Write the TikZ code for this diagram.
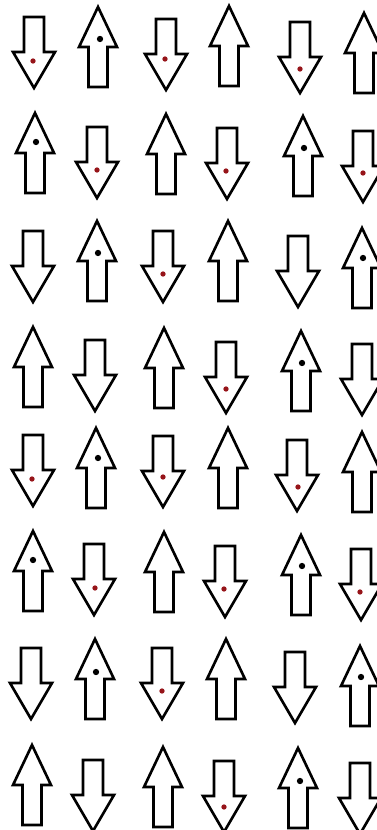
\documentclass[tikz,border=0pt]{standalone}
\usepackage{tikz}
\definecolor{dotred}{RGB}{150,20,25}

\begin{document}
\begin{tikzpicture}[
    x=0.02cm, y=-0.02cm,
    arrowline/.style={draw=black, line width=1.5pt, line join=miter, fill=white},
    uparr/.pic={
        \draw[arrowline] (0,0) -- (19,40) -- (9.5,40) -- (9.5,80) -- (-9.5,80) -- (-9.5,40) -- (-19,40) -- cycle;
    },
    downarr/.pic={
        \draw[arrowline] (0,0) -- (21,-36) -- (10,-36) -- (10,-71) -- (-10,-71) -- (-10,-36) -- (-21,-36) -- cycle;
    },
    updot/.style={fill=black},
    downdot/.style={fill=dotred}
]
\useasboundingbox (0,0) rectangle (377,830);

% row 1
\pic (r1c1) at (34,88) {downarr};
\pic (r1c2) at (98,7) {uparr};
\pic (r1c3) at (166,90) {downarr};
\pic (r1c4) at (229,6) {uparr};
\pic (r1c5) at (300,93) {downarr};
\pic (r1c6) at (364,13) {uparr};
\fill[downdot] (33,61) circle[radius=1.5pt];
\fill[updot] (100,39) circle[radius=1.8pt];
\fill[downdot] (165,59) circle[radius=1.5pt];
\fill[downdot] (300,69) circle[radius=1.5pt];

% row 2
\pic (r2c1) at (35,113) {uparr};
\pic (r2c2) at (97,198) {downarr};
\pic (r2c3) at (166,114) {uparr};
\pic (r2c4) at (227,199) {downarr};
\pic (r2c5) at (303,116) {uparr};
\pic (r2c6) at (363,202) {downarr};
\fill[updot] (36,142) circle[radius=1.8pt];
\fill[downdot] (97,170) circle[radius=1.5pt];
\fill[downdot] (226,171) circle[radius=1.5pt];
\fill[updot] (304,148) circle[radius=1.8pt];
\fill[downdot] (363,173) circle[radius=1.5pt];

% row 3
\pic (r3c1) at (33,302) {downarr};
\pic (r3c2) at (97,221) {uparr};
\pic (r3c3) at (163,302) {downarr};
\pic (r3c4) at (228,221) {uparr};
\pic (r3c5) at (298,307) {downarr};
\pic (r3c6) at (362,228) {uparr};
\fill[updot] (98,253) circle[radius=1.8pt];
\fill[downdot] (163,274) circle[radius=1.5pt];
\fill[updot] (363,258) circle[radius=1.8pt];

% row 4
\pic (r4c1) at (33,327) {uparr};
\pic (r4c2) at (95,411) {downarr};
\pic (r4c3) at (164,328) {uparr};
\pic (r4c4) at (226,413) {downarr};
\pic (r4c5) at (301,331) {uparr};
\pic (r4c6) at (362,415) {downarr};
\fill[downdot] (226,389) circle[radius=1.5pt];
\fill[updot] (302,363) circle[radius=1.8pt];

% row 5
\pic (r5c1) at (33,506) {downarr};
\pic (r5c2) at (96,428) {uparr};
\pic (r5c3) at (163,507) {downarr};
\pic (r5c4) at (228,428) {uparr};
\pic (r5c5) at (297,511) {downarr};
\pic (r5c6) at (362,432) {uparr};
\fill[downdot] (32,479) circle[radius=1.5pt];
\fill[updot] (98,458) circle[radius=1.8pt];
\fill[downdot] (163,477) circle[radius=1.5pt];
\fill[downdot] (298,487) circle[radius=1.5pt];

% row 6
\pic (r6c1) at (33,531) {uparr};
\pic (r6c2) at (94,615) {downarr};
\pic (r6c3) at (164,532) {uparr};
\pic (r6c4) at (225,617) {downarr};
\pic (r6c5) at (301,535) {uparr};
\pic (r6c6) at (361,620) {downarr};
\fill[updot] (33,560) circle[radius=1.8pt];
\fill[downdot] (95,588) circle[radius=1.5pt];
\fill[downdot] (224,589) circle[radius=1.5pt];
\fill[updot] (302,566) circle[radius=1.8pt];
\fill[downdot] (360,592) circle[radius=1.5pt];

% row 7
\pic (r7c1) at (31,719) {downarr};
\pic (r7c2) at (95,639) {uparr};
\pic (r7c3) at (162,719) {downarr};
\pic (r7c4) at (226,639) {uparr};
\pic (r7c5) at (295,723) {downarr};
\pic (r7c6) at (360,646) {uparr};
\fill[updot] (96,672) circle[radius=1.8pt];
\fill[downdot] (162,691) circle[radius=1.5pt];
\fill[updot] (361,677) circle[radius=1.8pt];

% row 8
\pic (r8c1) at (32,745) {uparr};
\pic (r8c2) at (93,831) {downarr};
\pic (r8c3) at (163,747) {uparr};
\pic (r8c4) at (224,832) {downarr};
\pic (r8c5) at (298,748) {uparr};
\pic (r8c6) at (360,834) {downarr};
\fill[downdot] (224,807) circle[radius=1.5pt];
\fill[updot] (300,781) circle[radius=1.8pt];

\end{tikzpicture}
\end{document}
